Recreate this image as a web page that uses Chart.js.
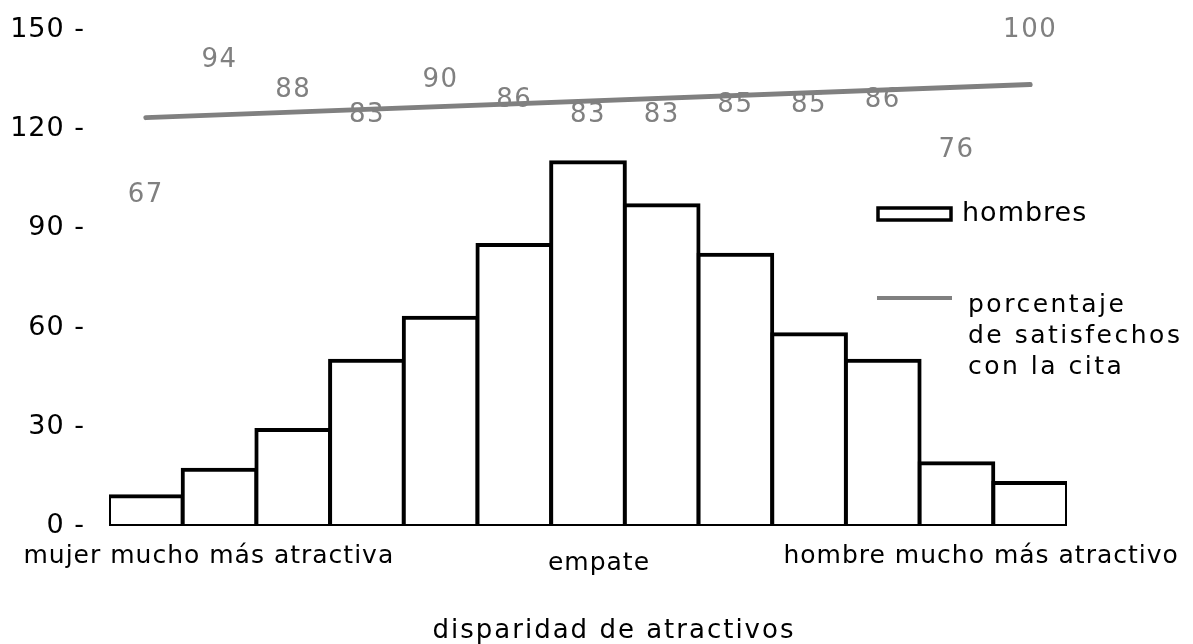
<!DOCTYPE html>
<html>
<head>
<meta charset="utf-8">
<script src="https://cdn.jsdelivr.net/npm/chart.js@4/dist/chart.umd.min.js"></script>
<style>
  html, body { margin: 0; padding: 0; background: #fff; }
  #wrap { width: 1193px; height: 644px; }
</style>
</head>
<body>
<div id="wrap"><canvas id="chart"></canvas></div>
<script>
// número de hombres por nivel de disparidad (13 clases)
const categorias = ['1', '2', '3', '4', '5', '6', '7', '8', '9', '10', '11', '12', '13'];
const hombres = [9, 17, 29, 50, 63, 85, 110, 97, 82, 58, 50, 19, 13];
// porcentaje de satisfechos con la cita en cada clase
const satisfechos = [67, 94, 88, 83, 90, 86, 83, 83, 85, 85, 86, 76, 100];
// recta de tendencia (extremos sobre el eje de hombres)
const tendencia = [123.5, null, null, null, null, null, null, null, null, null, null, null, 133.5];
const ticksY = [0, 30, 60, 90, 120, 150];
const etiquetasX = [
    { idx: 0, texto: 'mujer mucho más atractiva', dx: 63, y: 563 },
    { idx: 6, texto: 'empate', dx: 11, y: 570 },
    { idx: 12, texto: 'hombre mucho más atractivo', dx: -49, y: 563 },
];
const tituloX = 'disparidad de atractivos';

const FUENTE = '"DejaVu Sans", sans-serif';
const GRIS = '#808080';

// etiquetas de porcentaje, textos del eje x, título y leyenda
const extras = {
    id: 'extras',
    beforeDraw(chart) {
        chart.ctx.letterSpacing = '1px';
    },
    afterDatasetsDraw(chart) {
        const ctx = chart.ctx;
        const x = chart.scales.x;
        ctx.save();

        // valores de porcentaje
        const meta = chart.getDatasetMeta(2);
        ctx.font = '26px ' + FUENTE;
        ctx.letterSpacing = '1.5px';
        ctx.fillStyle = GRIS;
        ctx.textAlign = 'center';
        ctx.textBaseline = 'middle';
        meta.data.forEach((pt, i) => {
            ctx.fillText(String(satisfechos[i]), pt.x, pt.y);
        });

        // textos bajo el eje
        ctx.fillStyle = '#000';
        ctx.font = '25px ' + FUENTE;
        ctx.letterSpacing = '1px';
        ctx.textBaseline = 'alphabetic';
        etiquetasX.forEach(e => {
            ctx.fillText(e.texto, x.getPixelForValue(e.idx) + e.dx, e.y);
        });

        // título del eje
        ctx.font = '26px ' + FUENTE;
        ctx.letterSpacing = '2px';
        ctx.fillText(tituloX, 614, 638);

        // leyenda
        ctx.textAlign = 'left';
        ctx.lineWidth = 3.5;
        ctx.strokeStyle = '#000';
        ctx.fillStyle = '#fff';
        ctx.fillRect(878, 208, 73, 12);
        ctx.strokeRect(878, 208, 73, 12);
        ctx.fillStyle = '#000';
        ctx.font = '27px ' + FUENTE;
        ctx.letterSpacing = '1px';
        ctx.textBaseline = 'middle';
        ctx.fillText('hombres', 962, 214);

        ctx.strokeStyle = GRIS;
        ctx.lineWidth = 4;
        ctx.beginPath();
        ctx.moveTo(877, 298);
        ctx.lineTo(952, 298);
        ctx.stroke();
        ctx.font = '25px ' + FUENTE;
        ctx.letterSpacing = '2.5px';
        ctx.textBaseline = 'alphabetic';
        ['porcentaje', 'de satisfechos', 'con la cita'].forEach((l, i) => {
            ctx.fillText(l, 968, 312 + i * 31);
        });
        ctx.restore();
    }
};

new Chart(document.getElementById('chart').getContext('2d'), {
    data: {
        labels: categorias,
        datasets: [
            {
                type: 'bar',
                label: 'hombres',
                data: hombres,
                backgroundColor: '#fff',
                borderColor: '#000',
                borderWidth: 4,
                borderSkipped: false,
                inflateAmount: 2,
                barPercentage: 1,
                categoryPercentage: 1,
                yAxisID: 'y',
            },
            {
                type: 'line',
                label: 'tendencia',
                data: tendencia,
                spanGaps: true,
                borderColor: GRIS,
                borderWidth: 5,
                borderCapStyle: 'round',
                pointRadius: 0,
                yAxisID: 'y',
            },
            {
                type: 'line',
                label: 'porcentaje de satisfechos con la cita',
                data: satisfechos,
                showLine: false,
                pointRadius: 0,
                yAxisID: 'y2',
            },
        ],
    },
    options: {
        responsive: true,
        maintainAspectRatio: false,
        animation: false,
        layout: { padding: { top: 30, right: 126, bottom: 118, left: 0 } },
        plugins: { legend: { display: false }, tooltip: { enabled: false } },
        scales: {
            x: { display: false },
            y: {
                min: 0,
                max: 150,
                afterFit(scale) {
                    scale.width = 109;
                    scale.paddingTop = 0;
                    scale.paddingBottom = 0;
                },
                afterBuildTicks(scale) { scale.ticks = ticksY.map(v => ({ value: v })); },
                grid: { display: false, drawTicks: false },
                border: { display: false },
                ticks: {
                    color: '#000',
                    padding: 24,
                    font: { family: FUENTE, size: 27 },
                    callback: v => v + ' -',
                },
            },
            y2: { display: false, min: 1, max: 100 },
        },
    },
    plugins: [extras],
});
</script>
</body>
</html>
